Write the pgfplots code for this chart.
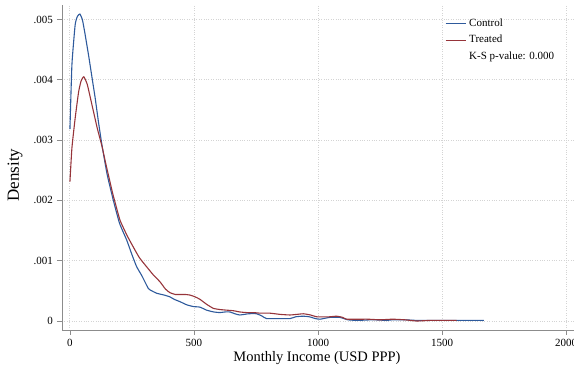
\documentclass[border=0pt]{standalone}
\usepackage{fontspec}
\setmainfont{Liberation Serif}
\usepackage{pgfplots}
\pgfplotsset{compat=1.18}
\definecolor{ctrl}{RGB}{46,90,156}
\definecolor{treat}{RGB}{150,52,58}
\definecolor{spine}{RGB}{140,140,140}
\definecolor{gridc}{RGB}{212,212,212}
\begin{document}
\begin{tikzpicture}
\begin{axis}[
 scale only axis, width=512pt, height=325pt,
 xmin=-32, xmax=2032, ymin=-0.000149, ymax=0.00524,
 axis x line*=bottom, axis y line*=left,
 axis line style={spine, line width=0.8pt, -},
 xtick={0,500,1000,1500,2000},
 xticklabels={0,500,1000,1500,2000},
 ytick={0,0.001,0.002,0.003,0.004,0.005},
 yticklabels={0,.001,.002,.003,.004,.005},
 scaled y ticks=false,
 /pgf/number format/assume math mode=true,
 tick style={spine, line width=0.8pt},
 tick align=outside, major tick length=5pt,
 grid=major, major grid style={gridc, dotted, line width=0.9pt},
 ticklabel style={font=\fontsize{11}{13}\selectfont},
 xticklabel style={yshift=-1pt},
 yticklabel style={xshift=-0.5pt},
 xlabel={Monthly Income (USD PPP)},
 ylabel={Density},
 every axis x label/.style={at={(axis description cs:0.498,-0.085)}, anchor=center, font=\fontsize{14.5}{17}\selectfont},
 every axis y label/.style={at={(axis description cs:-0.0918,0.477)}, rotate=90, anchor=center, font=\fontsize{17}{19}\selectfont},
 legend style={draw=none, fill=none, at={(axis description cs:0.742,0.975)}, anchor=north west,
   font=\fontsize{11}{13}\selectfont, row sep=0pt,
   nodes={text height=8pt, text depth=2.5pt, inner sep=3pt}},
 legend cell align=left,
 legend image code/.code={\draw[#1] (0pt,0pt) -- (20pt,0pt);},
]
\addplot[ctrl, line width=1.1pt, smooth, tension=0.3] coordinates {
(0,0.00318) (8,0.00425) (21,0.00491) (30,0.00505) (40,0.00509) (50,0.00500) (60,0.00478) (75,0.00441) (90,0.00401) (102,0.00369) (115,0.00330) (129,0.00292) (150,0.00243) (175,0.00200) (200,0.00162) (229,0.00134) (250,0.00110) (269,0.00090) (290,0.00075) (316,0.00054) (330,0.00050) (350,0.00046) (380,0.00043) (403,0.00040) (420,0.00036) (444,0.00032) (470,0.00027) (497,0.00024) (524,0.00023) (551,0.00018) (580,0.00015) (605,0.00014) (625,0.00015) (645,0.00015) (665,0.00012) (685,0.00010) (720,0.00012) (753,0.00012) (775,0.00008) (793,0.00004) (850,0.00004) (887,0.00004) (910,0.00007) (940,0.00008) (965,0.00007) (990,0.00004) (1008,0.00003) (1048,0.00006) (1088,0.00006) (1120,0.00002) (1160,0.00001) (1220,0.00002) (1277,0.00001) (1300,0.00002) (1350,0.00002) (1400,0.00001) (1500,0.00001) (1600,0.00001) (1669,0.00001)
};
\addlegendentry{Control}
\addplot[treat, line width=1.1pt, smooth, tension=0.3] coordinates {
(0,0.00231) (8,0.00287) (21,0.00336) (35,0.00380) (45,0.00398) (56,0.00405) (70,0.00392) (89,0.00358) (110,0.00320) (129,0.00290) (145,0.00260) (163,0.00228) (172,0.00212) (185,0.00192) (202,0.00167) (230,0.00142) (255,0.00123) (280,0.00105) (309,0.00090) (335,0.00077) (363,0.00065) (385,0.00053) (403,0.00047) (425,0.00044) (444,0.00044) (465,0.00044) (484,0.00043) (505,0.00040) (524,0.00036) (550,0.00028) (578,0.00021) (605,0.00019) (632,0.00018) (660,0.00017) (685,0.00015) (712,0.00014) (740,0.00014) (766,0.00013) (806,0.00013) (847,0.00011) (887,0.00010) (915,0.00011) (941,0.00012) (970,0.00010) (995,0.00007) (1048,0.00007) (1075,0.00008) (1100,0.00006) (1116,0.00003) (1200,0.00003) (1250,0.00002) (1300,0.00003) (1350,0.00002) (1398,0.00000) (1450,0.00001) (1500,0.00001) (1559,0.00001)
};
\addlegendentry{Treated}
\addlegendimage{empty legend}
\addlegendentry{K-S p-value: 0.000}
\end{axis}
\pgfresetboundingbox
\path[use as bounding box] ([xshift=-62pt,yshift=-43pt]current axis.south west) rectangle ([yshift=5pt]current axis.north east);
\end{tikzpicture}
\end{document}
